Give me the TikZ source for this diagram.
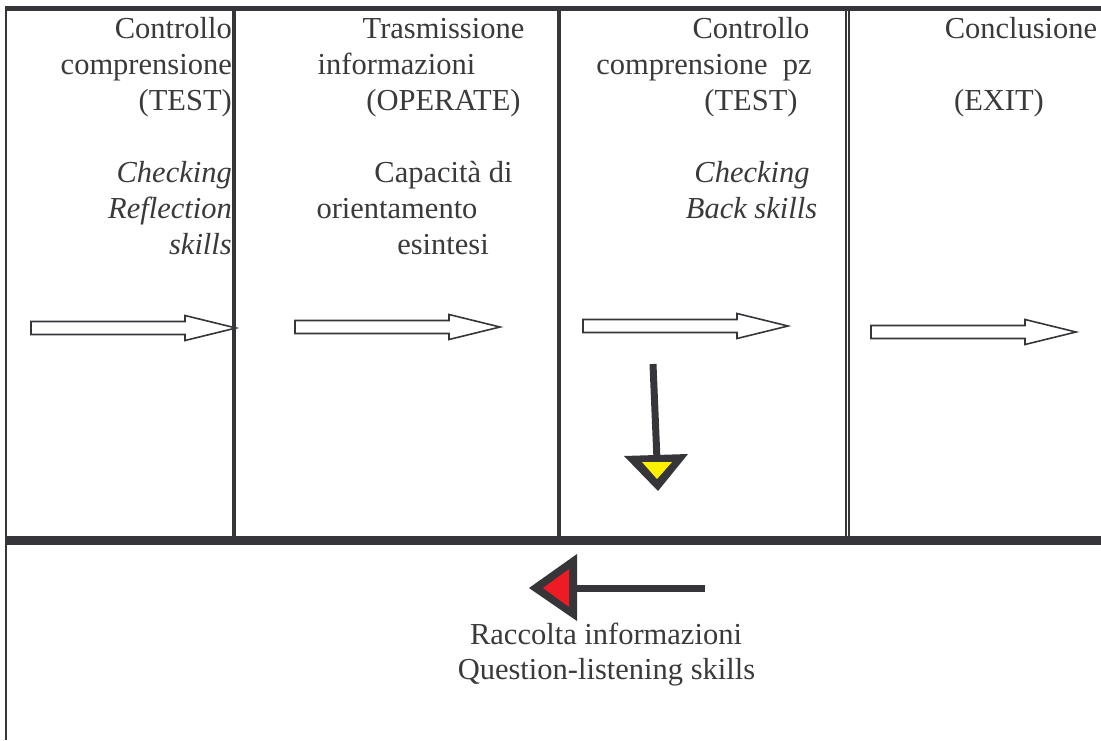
\documentclass[tikz,border=0pt]{standalone}
\usepackage{fontspec}
\setmainfont{Liberation Serif}
\definecolor{ink}{HTML}{36353A}
\definecolor{txt}{HTML}{3A3A3A}
\definecolor{headyellow}{HTML}{FFF000}
\definecolor{headred}{HTML}{ED1C24}
\tikzset{
  lbl/.style={text=txt, font=\fontsize{30.5}{36}\selectfont, inner sep=0pt},
  ilbl/.style={lbl, font=\fontsize{30.5}{36}\selectfont\itshape},
  rule/.style={draw=ink, line cap=butt},
  blockarrow/.pic={\draw[ink, line width=1.6pt, fill=white, line join=miter]
     (0,-6.5) -- (154,-6.5) -- (154,-12.5) -- (205,0) -- (154,12.5) -- (154,6.5) -- (0,6.5) -- cycle;},
  shaft/.style={draw=ink, line width=7pt, line cap=butt}
}
\begin{document}
\begin{tikzpicture}[x=1pt,y=-1pt]
\useasboundingbox[fill=white] (0,0) rectangle (1101,740);
% frame
\draw[rule, line width=5pt] (5,8.5) -- (1101,8.5);
\draw[rule, line width=2.3pt] (6,6) -- (6,740);
\draw[rule, line width=4pt] (234,8) -- (234,540);
\draw[rule, line width=3.6pt] (559,8) -- (559,540);
\draw[rule, line width=1.7pt] (845.8,8) -- (845.8,541);
\draw[rule, line width=1.7pt] (849.2,8) -- (849.2,541);
\draw[rule, line width=9pt] (5,540.5) -- (1101,540.5);
% column 1
\node[lbl, anchor=base east] (a1) at (232,38) {Controllo};
\node[lbl, anchor=base east] (a2) at (232,74) {comprensione};
\node[lbl, anchor=base east] (a3) at (232,110) {(TEST)};
\node[ilbl, anchor=base east] (a4) at (232,182) {Checking};
\node[ilbl, anchor=base east] (a5) at (232,218) {Reflection};
\node[ilbl, anchor=base east] (a6) at (232,254) {skills};
% column 2
\node[lbl, anchor=base] (b1) at (443.5,38) {Trasmissione};
\node[lbl, anchor=base] (b2) at (396.5,74) {informazioni};
\node[lbl, anchor=base] (b3) at (443.5,110) {(OPERATE)};
\node[lbl, anchor=base] (b4) at (443.5,182) {Capacità di};
\node[lbl, anchor=base] (b5) at (397,218) {orientamento};
\node[lbl, anchor=base] (b6) at (443,254) {esintesi};
% column 3
\node[lbl, anchor=base] (c1) at (751,38) {Controllo};
\node[lbl, anchor=base] (c2) at (704,74) {comprensione\ \ pz};
\node[lbl, anchor=base] (c3) at (751,110) {(TEST)};
\node[ilbl, anchor=base] (c4) at (752,182) {Checking};
\node[ilbl, anchor=base] (c5) at (751.5,218) {Back skills};
% column 4
\node[lbl, anchor=base] (d1) at (1021,38) {Conclusione};
\node[lbl, anchor=base] (d2) at (999,110) {(EXIT)};
% bottom
\node[lbl, anchor=base] (e1) at (606,644) {Raccolta informazioni};
\node[lbl, anchor=base] (e2) at (606.5,679) {Question-listening skills};
% block arrows
\pic at (31,328) {blockarrow};
\pic at (295,327) {blockarrow};
\pic at (583,326) {blockarrow};
\pic at (871,332) {blockarrow};
% down arrow (yellow head)
\coordinate (ds) at (653,364);
\coordinate (de) at (657,460);
\draw[shaft] (ds) -- (de);
\fill[ink] (624,456) -- (688,454) -- (658,491) -- cycle;
\fill[headyellow] (642,462) -- (672,462) -- (657,479) -- cycle;
% left arrow (red head)
\coordinate (ls) at (705,588);
\coordinate (le) at (575,588);
\draw[shaft] (ls) -- (le);
\fill[ink] (529,588) -- (577,554) -- (577,621) -- cycle;
\fill[headred] (543,588) -- (569,569) -- (569,607) -- cycle;
\end{tikzpicture}
\end{document}
